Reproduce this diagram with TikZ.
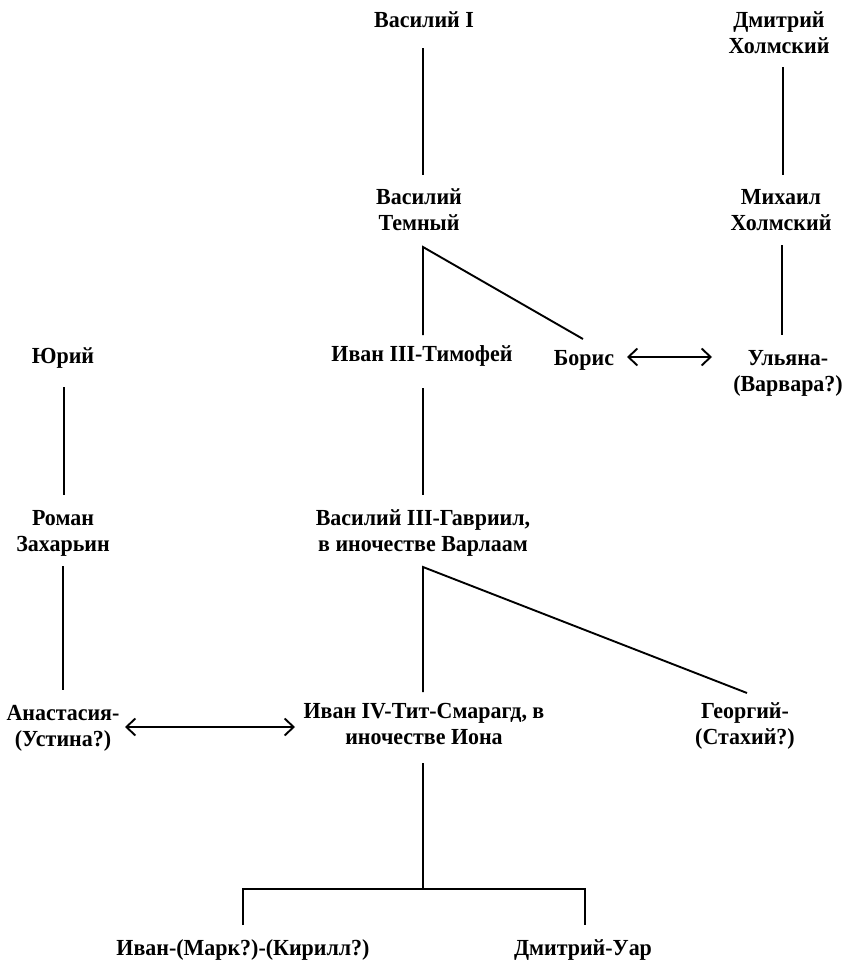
\documentclass[tikz,border=0pt]{standalone}
\usepackage{fontspec}
\setmainfont{Liberation Serif}[FakeStretch=0.955]
\usetikzlibrary{arrows.meta}
\newcommand\twol[2]{\begin{tabular}[t]{@{}c@{}}#1\\#2\end{tabular}}
\tikzset{
  nm/.style={inner sep=0pt, anchor=base, font=\fontsize{23}{26.5}\selectfont\bfseries},
  ln/.style={line width=1.9pt},
  dbl/.style={line width=1.9pt, {Straight Barb[length=9pt,width=17pt,line width=1.9pt]}-{Straight Barb[length=9pt,width=17pt,line width=1.9pt]}}
}
\begin{document}
\begin{tikzpicture}[x=1pt,y=-1pt]
\useasboundingbox (0,0) rectangle (843,964);
\fill[white] (0,0) rectangle (843,964);

\node[nm] (v1) at (424,27) {Василий I};
\node[nm] (dh) at (779,27) {\twol{Дмитрий}{Холмский}};
\node[nm] (vt) at (419,204) {\twol{Василий}{Темный}};
\node[nm] (mh) at (781,204) {\twol{Михаил}{Холмский}};
\node[nm] (yu) at (63,363) {Юрий};
\node[nm] (i3) at (422,361) {Иван III-Тимофей};
\node[nm] (bo) at (584,365) {Борис};
\node[nm] (ul) at (788,365) {\twol{Ульяна-}{(Варвара?)}};
\node[nm] (ro) at (63,525) {\twol{Роман}{Захарьин}};
\node[nm] (v3) at (423,525) {\twol{Василий III-Гавриил,}{в иночестве Варлаам}};
\node[nm] (an) at (63,720) {\twol{Анастасия-}{(Устина?)}};
\node[nm] (i4) at (424,718) {\twol{Иван IV-Тит-Смарагд, в}{иночестве Иона}};
\node[nm] (ge) at (745,718) {\twol{Георгий-}{(Стахий?)}};
\node[nm] (iv) at (243,955) {Иван-(Марк?)-(Кирилл?)};
\node[nm] (dm) at (583,955) {Дмитрий-Уар};

\coordinate (jn) at (423,889);

\draw[ln] ([xshift=-1pt,yshift=-21pt]v1.base) -- ([xshift=4pt,yshift=29pt]vt.base);
\draw[ln] ([xshift=4pt,yshift=-40pt]dh.base) -- ([xshift=2pt,yshift=29pt]mh.base);
\draw[ln] ([xshift=-1pt,yshift=26pt]bo.base) -- ([xshift=4pt,yshift=-43pt]vt.base) -- ([xshift=1pt,yshift=26pt]i3.base);
\draw[ln] ([xshift=1pt,yshift=-41pt]mh.base) -- ([xshift=-6pt,yshift=30pt]ul.base);
\draw[dbl] ([xshift=43pt,yshift=8pt]bo.base) -- ([xshift=-76pt,yshift=8pt]ul.base);
\draw[ln] ([xshift=1pt,yshift=-24pt]yu.base) -- ([xshift=1pt,yshift=30pt]ro.base);
\draw[ln] ([xshift=1pt,yshift=-27pt]i3.base) -- ([xshift=0pt,yshift=30pt]v3.base);
\draw[ln] ([yshift=-41pt]ro.base) -- ([yshift=30pt]an.base);
\draw[ln] ([xshift=2pt,yshift=25pt]ge.base) -- ([yshift=-42pt]v3.base) -- ([xshift=-1pt,yshift=26pt]i4.base);
\draw[dbl] ([xshift=62pt,yshift=-7pt]an.base) -- ([xshift=-129pt,yshift=-9pt]i4.base);
\draw[ln] ([xshift=-1pt,yshift=-45pt]i4.base) -- (jn);
\draw[ln] ([yshift=30pt]iv.base) |- (jn) -| ([xshift=2pt,yshift=30pt]dm.base);
\end{tikzpicture}
\end{document}
